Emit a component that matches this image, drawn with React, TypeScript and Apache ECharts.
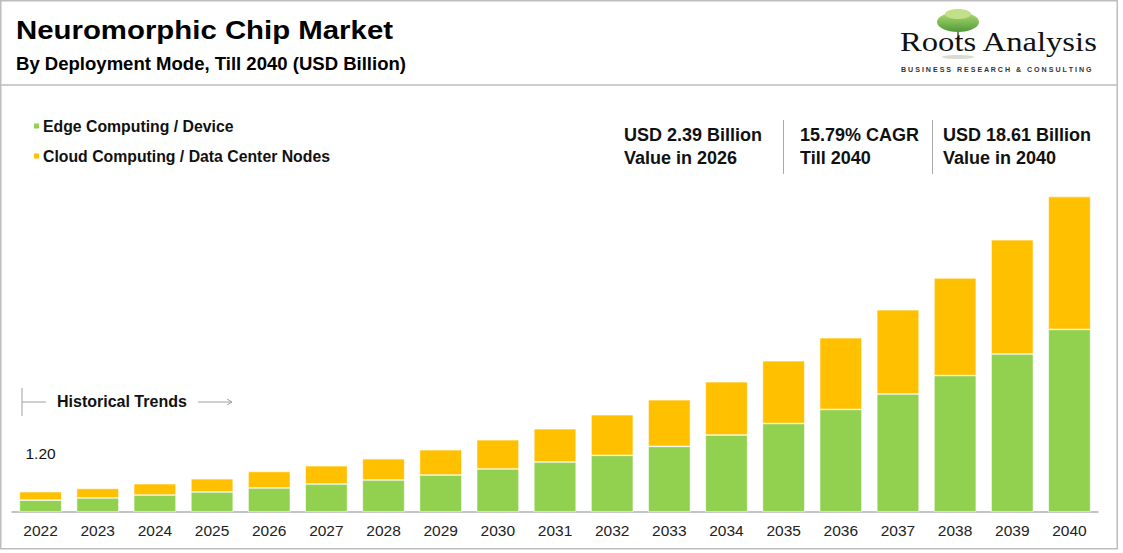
import React, { useEffect, useRef } from "react";
import * as echarts from "echarts";

const years = ["2022","2023","2024","2025","2026","2027","2028","2029","2030","2031","2032","2033","2034","2035","2036","2037","2038","2039","2040"];
const edgeValues = [0.70,0.83,1.00,1.18,1.42,1.65,1.89,2.18,2.54,2.95,3.34,3.87,4.54,5.22,6.05,6.96,8.05,9.32,10.77];
const cloudValues = [0.50,0.56,0.67,0.78,0.97,1.08,1.25,1.49,1.72,1.96,2.40,2.75,3.14,3.70,4.23,4.97,5.76,6.74,7.84];
const seriesNames = ["Edge Computing / Device", "Cloud Computing / Data Center Nodes"];
const firstTotalLabel = "1.20";
const statLines = [
  ["USD 2.39 Billion", "Value in 2026"],
  ["15.79% CAGR", "Till 2040"],
  ["USD 18.61 Billion", "Value in 2040"],
];

const FONT = "Arial, 'Liberation Sans', sans-serif";

export default function App() {
  const ref = useRef<HTMLDivElement>(null);
  useEffect(() => {
    if (!ref.current) return;
    const chart = echarts.init(ref.current, null, { renderer: "svg" });
    const statX = [624, 800, 943];
    const graphics: any[] = [
      { type: "rect", shape: { x: 0.75, y: 0.75, width: 1116.5, height: 548 }, style: { fill: "none", stroke: "#bdbdbd", lineWidth: 1.5 }, silent: true },
      { type: "line", shape: { x1: 0, y1: 85, x2: 1117, y2: 85 }, style: { stroke: "#bdbdbd", lineWidth: 1.5 } },
      { type: "text", x: 16, y: 30, scaleX: 1.13, style: { text: "Neuromorphic Chip Market", font: `bold 26px ${FONT}`, fill: "#000", textVerticalAlign: "middle" } },
      { type: "text", x: 16, y: 64, scaleX: 1.03, style: { text: "By Deployment Mode, Till 2040 (USD Billion)", font: `bold 18px ${FONT}`, fill: "#000", textVerticalAlign: "middle" } },
      // logo
      { type: "line", shape: { x1: 958, y1: 28, x2: 958, y2: 46 }, style: { stroke: "#7d8a62", lineWidth: 2 } },
      { type: "ellipse", shape: { cx: 958, cy: 22, rx: 21, ry: 10 }, style: { fill: new echarts.graphic.LinearGradient(0, 0, 0, 1, [{ offset: 0, color: "#b5dc74" }, { offset: 1, color: "#4e9a38" }]) } },
      { type: "ellipse", shape: { cx: 958, cy: 14, rx: 13, ry: 5 }, style: { fill: "#c2e08a" } },
      { type: "ellipse", shape: { cx: 958, cy: 57, rx: 16, ry: 2 }, style: { fill: "#d8dcd0" } },
      { type: "text", x: 900, y: 42, scaleX: 1.21, style: { text: "Roots Analysis", font: `27px 'Liberation Serif', 'Times New Roman', serif`, fill: "#111", textVerticalAlign: "middle" } },
      { type: "text", x: 901, y: 70, style: { text: "B U S I N E S S   R E S E A R C H   &   C O N S U L T I N G", font: `bold 7.1px ${FONT}`, fill: "#333", textVerticalAlign: "middle" } },
      // historical trends
      { type: "line", shape: { x1: 22, y1: 388, x2: 22, y2: 416 }, style: { stroke: "#a0a0a0", lineWidth: 1 } },
      { type: "line", shape: { x1: 22, y1: 402, x2: 46, y2: 402 }, style: { stroke: "#a0a0a0", lineWidth: 1 } },
      { type: "text", x: 57, y: 401, style: { text: "Historical Trends", font: `bold 16px ${FONT}`, fill: "#111", textVerticalAlign: "middle" } },
      { type: "line", shape: { x1: 198, y1: 402, x2: 232, y2: 402 }, style: { stroke: "#a0a0a0", lineWidth: 1 } },
      { type: "polyline", shape: { points: [[227, 399], [232, 402], [227, 405]] }, style: { stroke: "#a0a0a0", lineWidth: 1, fill: "none" } },
      { type: "line", shape: { x1: 783.5, y1: 120, x2: 783.5, y2: 174 }, style: { stroke: "#aaaaaa", lineWidth: 1 } },
      { type: "line", shape: { x1: 932.5, y1: 120, x2: 932.5, y2: 174 }, style: { stroke: "#aaaaaa", lineWidth: 1 } },
    ];
    statLines.forEach((lines, i) => {
      lines.forEach((t, j) => {
        graphics.push({ type: "text", x: statX[i], y: 135 + j * 23, style: { text: t, font: `bold 18px ${FONT}`, fill: "#111", textVerticalAlign: "middle" } });
      });
    });

    chart.setOption({
      animation: false,
      backgroundColor: "#fff",
      grid: { left: 12, right: 25, top: 173, bottom: 41, containLabel: false },
      legend: {
        orient: "vertical",
        left: 27,
        top: 112,
        itemWidth: 7,
        itemHeight: 7,
        itemGap: 12,
        icon: "rect",
        textStyle: { fontFamily: FONT, fontWeight: "bold", fontSize: 15.8, color: "#111", lineHeight: 18, padding: [0, 0, 0, -2] },
        data: seriesNames,
      },
      xAxis: {
        type: "category",
        data: years,
        axisLine: { lineStyle: { color: "#b0b0b0", width: 1.5 } },
        axisTick: { show: false },
        axisLabel: { fontFamily: FONT, fontSize: 15.5, color: "#222", margin: 10 },
      },
      yAxis: { type: "value", min: 0, max: 20, show: false, splitLine: { show: false } },
      series: [
        {
          name: seriesNames[0],
          type: "bar",
          stack: "total",
          barWidth: "74%",
          data: edgeValues,
          itemStyle: { color: "#92d050", borderColor: "#ffffff", borderWidth: 0.6 },
        },
        {
          name: seriesNames[1],
          type: "bar",
          stack: "total",
          barWidth: "74%",
          data: cloudValues.map((v, i) =>
            i === 0
              ? { value: v, label: { show: true, position: "top", distance: 30, formatter: firstTotalLabel, fontFamily: FONT, fontSize: 15.5, color: "#111" } }
              : v
          ),
          itemStyle: { color: "#ffc000", borderColor: "#ffffff", borderWidth: 0.6 },
        },
      ],
      graphic: graphics,
    });
    return () => chart.dispose();
  }, []);
  return <div ref={ref} style={{ position: "absolute", left: 0, top: 0, width: 1123, height: 553 }} />;
}
